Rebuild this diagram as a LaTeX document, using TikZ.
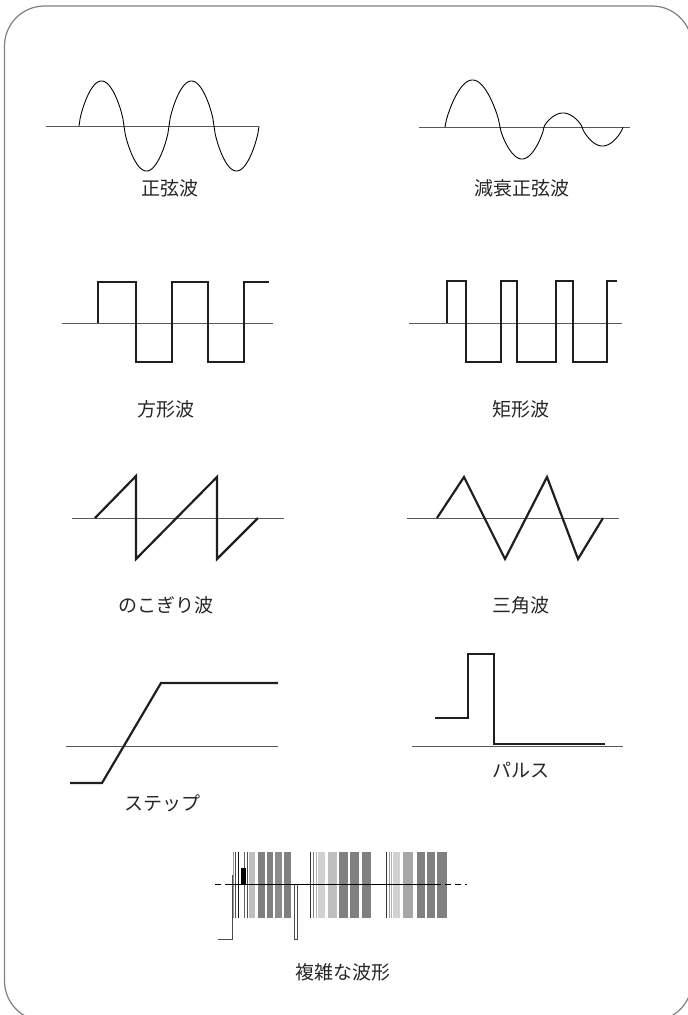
\documentclass[tikz,border=0pt]{standalone}
\usepackage{fontspec}
\newfontfamily\jpfont{Noto Sans CJK JP}
\usetikzlibrary{positioning}

\begin{document}
\begin{tikzpicture}[
  x=1pt, y=-1pt,
  frame/.style={draw=black!50, line width=1.2pt, rounded corners=40pt},
  axis/.style={draw=black!65, line width=1pt},
  wave/.style={draw=black!88, line width=2.2pt, line join=miter},
  thinwave/.style={draw=black, line width=0.9pt},
  lbl/.style={font=\jpfont\fontsize{19}{22}\selectfont, inner sep=0pt, text=black!85},
]
\useasboundingbox (0,0) rectangle (688,1015);
\draw[frame] (4.5,6) rectangle (692,1021);

% sine
\draw[axis] (46,126) -- (258,126);
\foreach \xa/\xb/\amp in {79/124/45, 124/169/-45, 169/214/45, 214/259/-45}
  \draw[thinwave] plot[domain=\xa:\xb, samples=40]
    (\x, {126 - \amp*(sin(180*(\x-\xa)/(\xb-\xa)))^0.7});
\node[lbl] (sine) at (170,188) {正弦波};

% damped sine
\draw[axis] (419,127) -- (630,127);
\foreach \xa/\xb/\amp in {445/500/47, 500/544/-32, 544/582/14, 582/623/-19}
  \draw[thinwave] plot[domain=\xa:\xb, samples=40]
    (\x, {127 - \amp*(sin(180*(\x-\xa)/(\xb-\xa)))^0.75});
\node[lbl] (damped) at (522,188) {減衰正弦波};

% square
\draw[axis] (62,323) -- (273,323);
\draw[wave] (98,323) -- (98,282) -- (136,282) -- (136,362) -- (172,362) -- (172,282)
  -- (208,282) -- (208,362) -- (244,362) -- (244,282) -- (269,282);
\node[lbl] (square) at (166,409) {方形波};

% rectangular
\draw[axis] (409,323) -- (622,323);
\draw[wave] (447,323) -- (447,281) -- (466,281) -- (466,362) -- (501,362) -- (501,281)
  -- (517,281) -- (517,362) -- (556,362) -- (556,281) -- (573,281) -- (573,362)
  -- (607,362) -- (607,281) -- (617,281);
\node[lbl] (rect) at (521,409) {矩形波};

% sawtooth
\draw[axis] (72,518) -- (284,518);
\draw[wave] (95,518) -- (136,476) -- (136,559) -- (217,477) -- (217,559) -- (258,518);
\node[lbl] (saw) at (166,605) {のこぎり波};

% triangle
\draw[axis] (407,518) -- (619,518);
\draw[wave] (437,518) -- (464,477) -- (505,559) -- (547,477) -- (578,559) -- (603,518);
\node[lbl] (tri) at (521,605) {三角波};

% step
\draw[axis] (66,746) -- (278,746);
\draw[wave] (70,783) -- (102,783) -- (161,683) -- (278,683);
\node[lbl] (stepw) at (162,803) {ステップ};

% pulse
\draw[axis] (412,746) -- (623,746);
\draw[wave] (435,718) -- (468,718) -- (468,654) -- (494,654) -- (494,744) -- (605,744);
\node[lbl] (pulse) at (521,770) {パルス};

% complex waveform
\foreach \xa/\xb/\g in {249/255/25, 258/265/50, 267/273/50, 275/282/45, 284/291/50,
    318/325/18, 328/337/25, 339/348/50, 350/359/50, 362/371/50,
    393/400/18, 403/413/35, 417/425/50, 427/435/50, 437/447/50}
  \fill[black!\g] (\xa,852) rectangle (\xb,918);
\foreach \xa/\g in {233/40, 235/70, 238/90, 244/60, 247/70, 310/80, 313/50, 316/30,
    386/80, 389/40, 391/30}
  \draw[black!\g, line width=0.7pt] (\xa,852) -- (\xa,918);
\fill[black] (241,868) rectangle (246,884);
\draw[black!70, line width=0.8pt] (218,939) -- (232,939) -- (232,875);
\draw[black!70, line width=0.7pt] (294,884) rectangle (297,939);
\draw[black, line width=0.8pt, dash pattern=on 6pt off 4pt] (215,884) -- (467,884);
\draw[black, line width=0.8pt] (228,884) -- (440,884);
\node[lbl] (complex) at (343,972) {複雑な波形};
\end{tikzpicture}
\end{document}
